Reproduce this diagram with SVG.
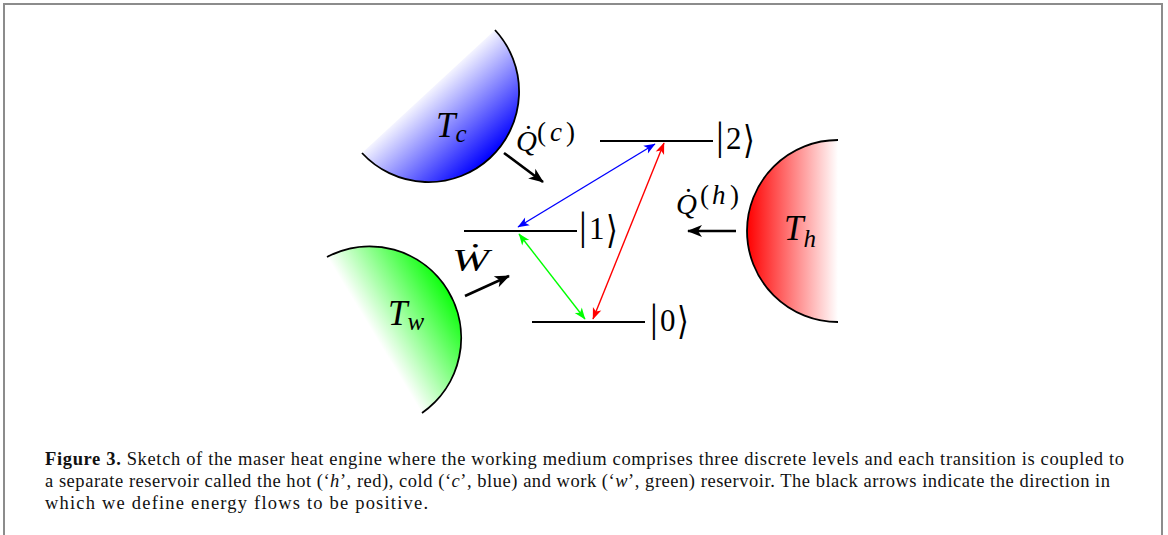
<svg xmlns="http://www.w3.org/2000/svg" width="1168" height="535" viewBox="0 0 1168 535">
<style>
.m{font-family:"Liberation Serif","DejaVu Serif",serif;fill:#000}
.i{font-style:italic}
.n{font-style:normal}
.ang{font-family:"DejaVu Sans",sans-serif;font-size:24px;fill:#000}
.lvl{stroke:#000;stroke-width:2.2;fill:none}
.blk{stroke:#000;stroke-width:2.6;fill:none;marker-end:url(#hk)}
.arc{fill:none;stroke:#000;stroke-width:1.8}
.cap{font-family:"Liberation Serif","DejaVu Serif",serif;font-size:18.5px;fill:#111}
</style>
<defs>
<linearGradient id="gb" gradientUnits="userSpaceOnUse" x1="428.5" y1="91.5" x2="490" y2="158"><stop offset="0" stop-color="#f4f4ff"/><stop offset="1" stop-color="#0000ff"/></linearGradient>
<linearGradient id="gr" gradientUnits="userSpaceOnUse" x1="838" y1="231" x2="747" y2="231"><stop offset="0" stop-color="#fff"/><stop offset="1" stop-color="#ff0000"/></linearGradient>
<linearGradient id="gg" gradientUnits="userSpaceOnUse" x1="374.5" y1="335" x2="452" y2="288"><stop offset="0" stop-color="#fff"/><stop offset="1" stop-color="#00ff00"/></linearGradient>
<marker id="hk" viewBox="-15 -7 17 14" markerWidth="17" markerHeight="14" refX="0" refY="0" orient="auto" markerUnits="userSpaceOnUse"><path d="M1,0 L-14,-6 L-10,0 L-14,6 Z" fill="#000"/></marker>
<marker id="hb" viewBox="-12 -5 13 10" markerWidth="13" markerHeight="10" refX="0" refY="0" orient="auto-start-reverse" markerUnits="userSpaceOnUse"><path d="M0.5,0 L-11,-4.5 L-8,0 L-11,4.5 Z" fill="#0000ff"/></marker>
<marker id="hr" viewBox="-12 -5 13 10" markerWidth="13" markerHeight="10" refX="0" refY="0" orient="auto-start-reverse" markerUnits="userSpaceOnUse"><path d="M0.5,0 L-11,-4.5 L-8,0 L-11,4.5 Z" fill="#ff0000"/></marker>
<marker id="hg" viewBox="-12 -5 13 10" markerWidth="13" markerHeight="10" refX="0" refY="0" orient="auto-start-reverse" markerUnits="userSpaceOnUse"><path d="M0.5,0 L-11,-4.5 L-8,0 L-11,4.5 Z" fill="#00ff00"/></marker>
</defs>
<rect width="1168" height="535" fill="#fff"/>
<path d="M4,535 V4 H1162 V535" fill="none" stroke="#8c8c8c" stroke-width="2"/>

<g id="cold-reservoir">
<path d="M495,30 A90.5,90.5 0 0 1 362,153 Z" fill="url(#gb)"/>
<path d="M495,30 A90.5,90.5 0 0 1 362,153" class="arc"/>
<text class="m i" x="436" y="137" font-size="35">T<tspan font-size="25" y="142">c</tspan></text>
</g>

<g id="hot-reservoir">
<path d="M838,140 A91,91 0 0 0 838,322 Z" fill="url(#gr)"/>
<path d="M838,140 A91,91 0 0 0 838,322" class="arc"/>
<text class="m i" x="784" y="240" font-size="35">T<tspan font-size="25" y="247">h</tspan></text>
</g>

<g id="work-reservoir">
<path d="M327,257 A91.5,91.5 0 0 1 422,413 Z" fill="url(#gg)"/>
<path d="M327,257 A91.5,91.5 0 0 1 422,413" class="arc"/>
<text class="m i" x="388" y="325" font-size="35">T<tspan font-size="25" y="330">w</tspan></text>
</g>

<g id="level-2">
<line x1="600" y1="141" x2="713" y2="141" class="lvl"/>
<text class="m" y="149" font-size="31"><tspan x="716" font-size="39">|</tspan><tspan x="726">2</tspan></text>
<text class="ang" transform="translate(743,153) scale(1.25,1.6)">⟩</text>
</g>
<g id="level-1">
<line x1="464" y1="231" x2="577" y2="231" class="lvl"/>
<text class="m" y="239" font-size="31"><tspan x="579" font-size="39">|</tspan><tspan x="589">1</tspan></text>
<text class="ang" transform="translate(606,243) scale(1.25,1.6)">⟩</text>
</g>
<g id="level-0">
<line x1="532" y1="322" x2="645" y2="322" class="lvl"/>
<text class="m" y="331" font-size="31"><tspan x="650" font-size="39">|</tspan><tspan x="660">0</tspan></text>
<text class="ang" transform="translate(677,334) scale(1.25,1.6)">⟩</text>
</g>

<g id="labels">
<text class="m i" font-size="29"><tspan x="516" y="151">Q̇</tspan><tspan x="537" y="141" font-size="27" class="n">(</tspan><tspan x="550" y="141" font-size="27">c</tspan><tspan x="566" y="141" font-size="27" class="n">)</tspan></text>
<text class="m i" font-size="29"><tspan x="676" y="214">Q̇</tspan><tspan x="700" y="204" font-size="27" class="n">(</tspan><tspan x="712" y="204" font-size="27">h</tspan><tspan x="730" y="204" font-size="27" class="n">)</tspan></text>
<text class="m i" font-size="31" x="452" y="271" textLength="37" lengthAdjust="spacingAndGlyphs">Ẇ</text>
</g>

<g id="connectors">
<line x1="504" y1="153" x2="543" y2="182" class="blk"/>
<line x1="736" y1="231" x2="688" y2="231" class="blk"/>
<line x1="465" y1="296" x2="509" y2="276" class="blk"/>
<line x1="655" y1="144" x2="518" y2="227" stroke="#0000ff" stroke-width="1.4" marker-start="url(#hb)" marker-end="url(#hb)"/>
<line x1="664" y1="143" x2="593" y2="319" stroke="#ff0000" stroke-width="1.4" marker-start="url(#hr)" marker-end="url(#hr)"/>
<line x1="519" y1="234" x2="585" y2="319" stroke="#00ff00" stroke-width="1.4" marker-start="url(#hg)" marker-end="url(#hg)"/>
</g>

<g id="caption">
<text class="cap" x="45" y="465" textLength="1079" lengthAdjust="spacing"><tspan font-weight="bold">Figure 3.</tspan> Sketch of the maser heat engine where the working medium comprises three discrete levels and each transition is coupled to</text>
<text class="cap" x="45" y="487" textLength="1065" lengthAdjust="spacing">a separate reservoir called the hot (‘<tspan class="i">h</tspan>’, red), cold (‘<tspan class="i">c</tspan>’, blue) and work (‘<tspan class="i">w</tspan>’, green) reservoir. The black arrows indicate the direction in</text>
<text class="cap" x="45" y="509" textLength="383" lengthAdjust="spacing">which we define energy flows to be positive.</text>
</g>
</svg>
